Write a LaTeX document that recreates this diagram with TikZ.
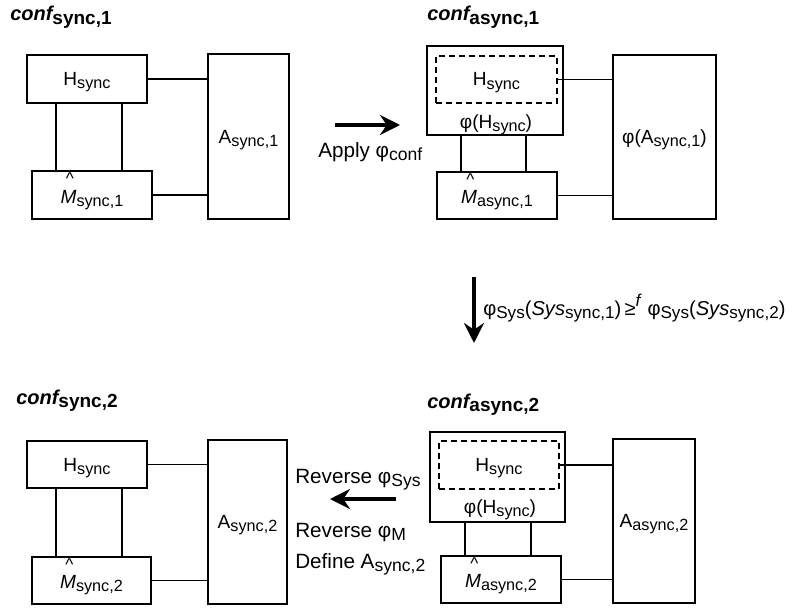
\documentclass[tikz,border=0pt]{standalone}
\usepackage{fontspec}
\setmainfont{Liberation Sans}
\usepackage{graphicx}
\usetikzlibrary{fit,calc,arrows.meta}
\newcommand\lowsub[1]{\raisebox{-0.17em}{\scalebox{0.85}{#1}}}
\newcommand\tsub[1]{\raisebox{-0.17em}{\scalebox{0.95}{#1}}}
\newcommand\Mhat{\makebox[0pt][l]{\hspace{0.28em}\raisebox{0.97em}{\scalebox{0.9}{\textasciicircum}}}\textit{M}}
\begin{document}
\begin{tikzpicture}[x=0.75pt,y=-0.75pt,
  box/.style={draw, line width=1.2pt, inner sep=0pt},
  dbox/.style={box, dash pattern=on 4.5pt off 3pt},
  conn/.style={line width=1.2pt},
  bigarrow/.style={line width=2.4pt, -{Stealth[length=15pt,width=15pt,inset=5pt]}},
  lbl/.style={font=\fontsize{14.3}{16}\selectfont, anchor=base, inner sep=0pt},
  albl/.style={font=\fontsize{15.5}{18}\selectfont, anchor=base west, inner sep=0pt},
  ttl/.style={font=\fontsize{15}{17}\selectfont\bfseries, anchor=base west, inner sep=0pt}]
\useasboundingbox (0,0) rectangle (793,610);

% ---------- top left ----------
\node[ttl] (t1) at (10,21) {{\itshape conf}\tsub{sync,1}};
\node[box, fit={(27,55) (147,103)}] (H1) {};
\node[box, fit={(32,171) (152,219)}] (M1) {};
\node[box, fit={(208,54) (289,219)}] (A1) {};
\node[lbl] (H1t) at ([yshift=-6.5*0.75pt]H1.center) {H\lowsub{sync}};
\node[lbl] (M1t) at ([yshift=-8*0.75pt]M1.center) {\Mhat\lowsub{sync,1}};
\node[lbl] (A1t) at ([yshift=-6.5*0.75pt]A1.center) {A\lowsub{sync,1}};
\coordinate (a1) at ($(H1.south west)+(30,0)$);
\coordinate (b1) at ($(H1.south west)+(96,0)$);
\draw[conn] (a1) -- (a1 |- M1.north);
\draw[conn] (b1) -- (b1 |- M1.north);
\draw[conn] (H1.east) -- (H1.east -| A1.west);
\draw[conn] (M1.east) -- (M1.east -| A1.west);

% ---------- apply arrow ----------
\coordinate (ap1) at (335,125);
\coordinate (ap2) at (400,125);
\draw[bigarrow] (ap1) -- (ap2);
\node[albl] (apl) at (318,157) {Apply φ\lowsub{conf}};

% ---------- top right ----------
\node[ttl] (t2) at (427,21) {{\itshape conf}\tsub{async,1}};
\node[box, fit={(427,46) (563,135)}] (PH1) {};
\node[dbox, fit={(436,56) (557,103)}] (DH1) {};
\node[lbl] (DH1t) at ([yshift=-6.5*0.75pt]DH1.center) {H\lowsub{sync}};
\node[lbl] (pl1) at (496,128) {φ(H\lowsub{sync})};
\node[box, fit={(437,172) (557,219)}] (MA1) {};
\node[lbl] (MA1t) at ([yshift=-8*0.75pt]MA1.center) {\Mhat\lowsub{async,1}};
\node[box, fit={(613,55) (716,219)}] (PA1) {};
\node[lbl] (PA1t) at ([yshift=-6.5*0.75pt]PA1.center) {φ(A\lowsub{sync,1})};
\coordinate (c1) at ($(PH1.south west)+(35,0)$);
\coordinate (d1) at ($(PH1.south west)+(100,0)$);
\draw[conn] (c1) -- (c1 |- MA1.north);
\draw[conn] (d1) -- (d1 |- MA1.north);
\draw[conn] (DH1.east) -- (DH1.east -| PA1.west);
\draw[conn] (MA1.east) -- (MA1.east -| PA1.west);

% ---------- down arrow ----------
\coordinate (dn1) at (474,277);
\coordinate (dn2) at (474,343);
\draw[bigarrow] (dn1) -- (dn2);
\node[albl, font=\fontsize{15.1}{17}\selectfont] (dnl) at (483,315) {φ\lowsub{Sys}(\textit{Sys}\lowsub{sync,1})\,≥\raisebox{0.4em}{\scalebox{0.85}{\textit{f}}} φ\lowsub{Sys}(\textit{Sys}\lowsub{sync,2})};

% ---------- bottom left ----------
\node[ttl] (t3) at (16,404) {{\itshape conf}\tsub{sync,2}};
\node[box, fit={(27,441) (147,488)}] (H3) {};
\node[box, fit={(32,557) (151,604)}] (M3) {};
\node[box, fit={(208,440) (287,604)}] (A3) {};
\node[lbl] (H3t) at ([yshift=-6.5*0.75pt]H3.center) {H\lowsub{sync}};
\node[lbl] (M3t) at ([yshift=-8*0.75pt]M3.center) {\Mhat\lowsub{sync,2}};
\node[lbl] (A3t) at ([yshift=-6.5*0.75pt]A3.center) {A\lowsub{sync,2}};
\coordinate (a3) at ($(H3.south west)+(30,0)$);
\coordinate (b3) at ($(H3.south west)+(96,0)$);
\draw[conn] (a3) -- (a3 |- M3.north);
\draw[conn] (b3) -- (b3 |- M3.north);
\draw[conn] (H3.east) -- (H3.east -| A3.west);
\draw[conn] (M3.east) -- (M3.east -| A3.west);

% ---------- reverse arrow ----------
\node[albl] (r1) at (295,483) {Reverse φ\lowsub{Sys}};
\coordinate (lf1) at (396,499);
\coordinate (lf2) at (330,499);
\draw[bigarrow] (lf1) -- (lf2);
\node[albl] (r2) at (295,537) {Reverse φ\lowsub{M}};
\node[albl] (r3) at (295,568) {Define A\lowsub{sync,2}};

% ---------- bottom right ----------
\node[ttl] (t4) at (427,408) {{\itshape conf}\tsub{async,2}};
\node[box, fit={(430,432) (565,522)}] (PH2) {};
\node[dbox, fit={(439,441) (559,489)}] (DH2) {};
\node[lbl] (DH2t) at ([yshift=-6.5*0.75pt]DH2.center) {H\lowsub{sync}};
\node[lbl] (pl2) at (500,513) {φ(H\lowsub{sync})};
\node[box, fit={(441,556) (561,603)}] (MA2) {};
\node[lbl] (MA2t) at ([yshift=-8*0.75pt]MA2.center) {\Mhat\lowsub{async,2}};
\node[box, fit={(613,439) (695,603)}] (PA2) {};
\node[lbl] (PA2t) at ([yshift=-6.5*0.75pt]PA2.center) {A\lowsub{async,2}};
\coordinate (c2) at ($(PH2.south west)+(36,0)$);
\coordinate (d2) at ($(PH2.south west)+(102,0)$);
\draw[conn] (c2) -- (c2 |- MA2.north);
\draw[conn] (d2) -- (d2 |- MA2.north);
\draw[conn] (DH2.east) -- (DH2.east -| PA2.west);
\draw[conn] (MA2.east) -- (MA2.east -| PA2.west);
\end{tikzpicture}
\end{document}
